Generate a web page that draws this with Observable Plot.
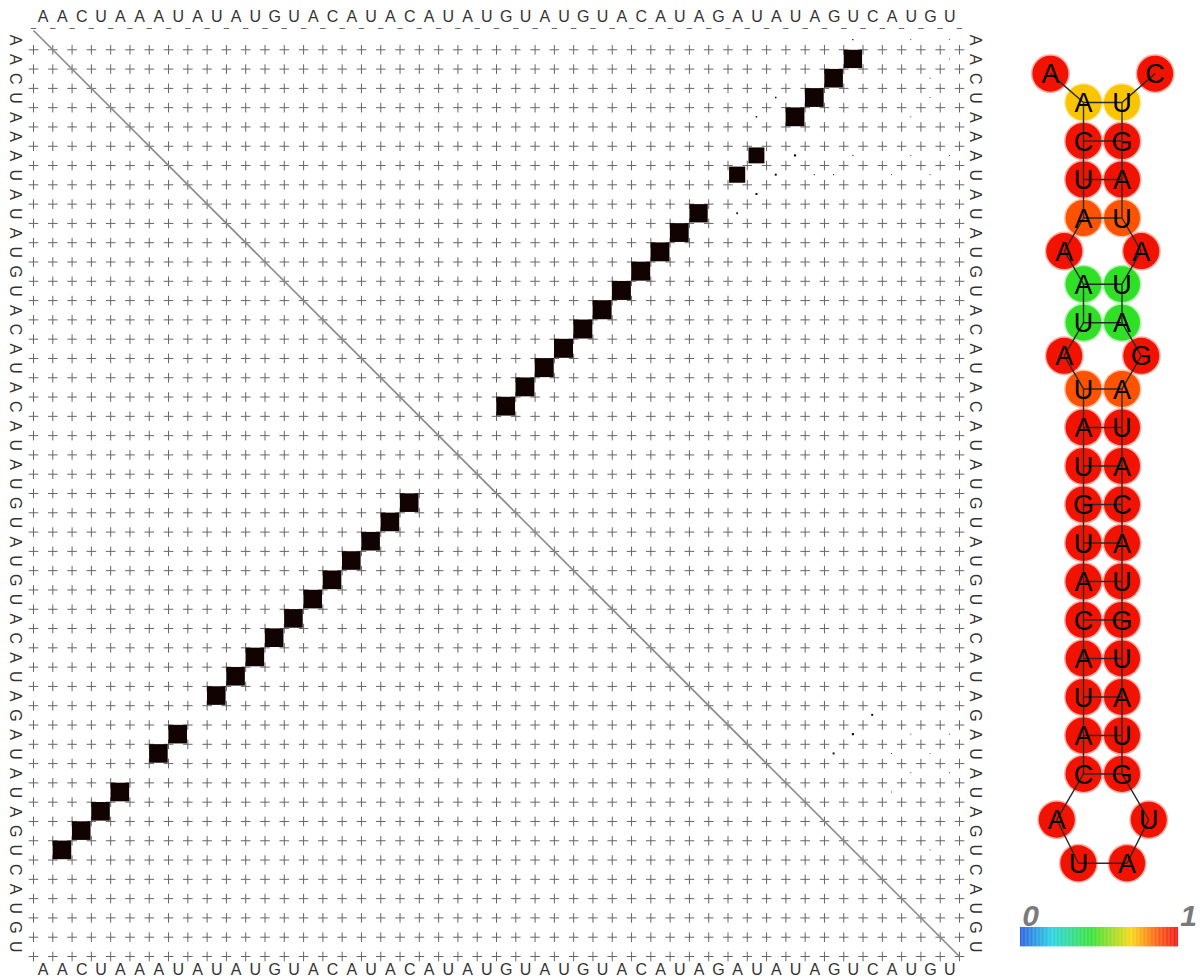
<!DOCTYPE html>
<html><head><meta charset="utf-8">
<script src="https://cdn.jsdelivr.net/npm/d3@7"></script>
<script src="https://cdn.jsdelivr.net/npm/@observablehq/plot@0.6"></script>
<style>
body{margin:0;background:#fff;}
#wrap{position:relative;width:1200px;height:978px;overflow:hidden;}
#dot{position:absolute;left:0;top:0;}
#ss{position:absolute;left:1000px;top:0;}
#leg{position:absolute;left:1000px;top:890px;}
</style></head><body><div id="wrap"><div id="dot"></div><div id="ss"></div><div id="leg"></div></div>
<script>
// ---------------- data ----------------
const sequence = "AACUAAAUAUAUGUACAUACAUAUGUAUGUACAUAGAUAUAGUCAUGU".split("");
const mfeStructure = ".((((.((.(((((((((((" + "...." + ")))))))))))" + ".))" + ".))))" + ".....";
// base-pair probabilities (upper triangle): i, j, p
const pairI = [2,3,4,5,7,8,10,11,12,13,14,15,16,17,18,19,20,
  1,1,1,2,3,4,5,4,5,7,8,9,10,7,7,7,8,8,8,8,36,37,38,37,38,39,40,37,39,38,43];
const pairJ = [43,42,41,40,38,37,35,34,33,32,31,30,29,28,27,26,25,
  43,46,48,48,47,47,46,39,38,40,39,38,37,43,46,48,41,42,45,47,44,43,42,46,45,46,45,48,48,47,47];
const pairP = [0.90,0.93,0.95,0.95,0.68,0.70,0.90,0.95,0.96,0.97,0.97,0.97,0.97,0.97,0.97,0.96,0.95,
  0.004,0.002,0.002,0.002,0.002,0.002,0.002,0.006,0.006,0.012,0.010,0.010,0.008,0.003,0.002,0.002,0.003,0.003,0.002,0.002,0.010,0.012,0.010,0.002,0.002,0.002,0.002,0.002,0.002,0.002,0.002];
// per-nucleotide reliability of the drawn structure (nucleotides 1..44)
const reliability = [0.97,0.72,0.97,0.97,0.87,0.97,0.46,0.46,0.97,0.87,
  0.97,0.97,0.97,0.97,0.97,0.97,0.97,0.97,0.97,0.97,
  0.97,0.97,0.97,0.97,0.97,0.97,0.97,0.97,0.97,0.97,
  0.97,0.97,0.97,0.97,0.87,0.97,0.46,0.46,0.97,0.87,
  0.97,0.97,0.72,0.97];
const colorStops = [0, 0.2, 0.45, 0.7, 0.85, 1];
const colorRange = ["#1a55e0","#18d0e0","#28e028","#f8d400","#ff6000","#ee0000"];
const legendLabels = ["0","1"];

// ---------------- derived ----------------
const N = sequence.length;
function pairTable(db){
  const st=[], pt=new Array(db.length+1).fill(0);
  for(let k=0;k<db.length;k++){
    if(db[k]==="(") st.push(k+1);
    else if(db[k]===")"){const o=st.pop(); pt[o]=k+1; pt[k+1]=o;}
  }
  return pt;
}
const pt = pairTable(mfeStructure);
const upper = pairI.map((i,k)=>({i, j:pairJ[k], p:pairP[k]}));
const mfePairs = [];
for(let i=1;i<=N;i++) if(pt[i]>i) mfePairs.push({i, j:pt[i], p:0.93});

const corners = d3.cross(d3.range(N+1), d3.range(1,N+1)).map(([a,b])=>({a,b}));
const idx = d3.range(1,N+1);
const font = "Liberation Sans, Arial, sans-serif";

const half = d => Math.sqrt(d.p)/2;
const dotPlot = Plot.plot({
  width:1000, height:978, margin:0,
  x:{domain:[0,N], range:[33,959], axis:null},
  y:{domain:[0,N], range:[30,956], axis:null},
  style:{background:"transparent"},
  marks:[
    Plot.dot(corners,{x:"a", y:"b", symbol:"plus", r:3.2, stroke:"#666", strokeWidth:1}),
    Plot.link(d3.range(N+1),{x1:d=>d-0.14, x2:d=>d+0.14, y1:()=>0, y2:()=>0, stroke:"#666", strokeWidth:1, dy:-2}),
    Plot.link([N],{x1:()=>0, y1:()=>0, x2:d=>d, y2:d=>d, stroke:"#8a8a8a", strokeWidth:1.6}),
    // upper triangle: probabilities, row i, column j
    Plot.rect(upper,{x1:d=>d.j-0.5-half(d), x2:d=>d.j-0.5+half(d), y1:d=>d.i-0.5-half(d), y2:d=>d.i-0.5+half(d), fill:"#120303"}),
    // lower triangle: MFE structure, row j, column i
    Plot.rect(mfePairs,{x1:d=>d.i-0.5-half(d), x2:d=>d.i-0.5+half(d), y1:d=>d.j-0.5-half(d), y2:d=>d.j-0.5+half(d), fill:"#120303"}),
    // sequence on the four sides
    Plot.text(idx,{x:d=>d-0.5, y:()=>0, text:d=>sequence[d-1], dy:-14, fontSize:16, fill:"#333", fontFamily:font}),
    Plot.text(idx,{x:d=>d-0.5, y:()=>N, text:d=>sequence[d-1], dy:13, fontSize:16, fill:"#333", fontFamily:font}),
    Plot.text(idx,{x:()=>0, y:d=>d-0.5, text:d=>sequence[d-1], dx:-18, rotate:90, fontSize:16, fill:"#333", fontFamily:font}),
    Plot.text(idx,{x:()=>N, y:d=>d-0.5, text:d=>sequence[d-1], dx:16, rotate:90, fontSize:16, fill:"#333", fontFamily:font})
  ]
});
document.getElementById("dot").append(dotPlot);

// ---------------- secondary structure layout (computed from the pair table) ----------------
const nDrawn = reliability.length;
function layout(){
  const pos = new Array(N+1);
  let i=1; while(pt[i]===0) i++;
  let j=pt[i], y=0;
  for(let k=i-1,c=1;k>=1;k--,c++) pos[k]={x:-0.86*c, y:-0.75*c};
  for(let k=j+1,c=1;k<=N;k++,c++) pos[k]={x:1+0.86*c, y:-0.75*c};
  while(true){
    pos[i]={x:0,y}; pos[j]={x:1,y};
    let a=i+1; while(a<j && pt[a]===0) a++;
    if(a>=j){ // hairpin loop on a circle
      const m=j-i-1, cx=0.5, cy=y+1.3, R=1.2;
      const start=Math.atan2(y-cy,0-cx)+2*Math.PI, end=Math.atan2(y-cy,1-cx);
      const step=(end-start)/(m+1);
      for(let k=1;k<=m;k++){const ang=start+step*k; pos[i+k]={x:cx+R*Math.cos(ang), y:cy+R*Math.sin(ang)};}
      break;
    }
    const b=pt[a], L=a-i-1, Rr=j-b-1;
    const gap = (L===0 && Rr===0) ? 1 : Math.max(L,Rr)+0.72;
    for(let k=1;k<=L;k++) pos[i+k]={x:-0.5, y:y+gap*k/(L+1)};
    for(let k=1;k<=Rr;k++) pos[j-k]={x:1.5, y:y+gap*k/(Rr+1)};
    i=a; j=b; y=y+gap;
  }
  return pos;
}
const pos = layout();
const nodes = d3.range(1,nDrawn+1).map(k=>({k, base:sequence[k-1], x:pos[k].x, y:pos[k].y, rel:reliability[k-1]}));
const backbone = d3.range(1,nDrawn).map(k=>({a:pos[k], b:pos[k+1]}));
const bonds = mfePairs.filter(d=>d.j<=nDrawn).map(d=>({a:pos[d.i], b:pos[d.j]}));

const colorScale = {type:"linear", domain:colorStops, range:colorRange, interpolate:"rgb"};
const ss = Plot.plot({
  width:200, height:890, margin:0,
  x:{domain:[0,1], range:[83,121.5], axis:null},
  y:{domain:[0,1], range:[102,140.5], axis:null},
  color:colorScale,
  style:{background:"transparent"},
  marks:[
    Plot.dot(nodes,{x:"x", y:"y", r:19.5, fill:"rel", fillOpacity:0.35}),
    Plot.dot(nodes,{x:"x", y:"y", r:18, fill:"rel"}),
    Plot.link(backbone,{x1:d=>d.a.x, y1:d=>d.a.y, x2:d=>d.b.x, y2:d=>d.b.y, stroke:"#2a2a2a", strokeWidth:1.4}),
    Plot.link(bonds,{x1:d=>d.a.x, y1:d=>d.a.y, x2:d=>d.b.x, y2:d=>d.b.y, stroke:"#2a2a2a", strokeWidth:1.4}),
    Plot.text(nodes,{x:"x", y:"y", text:"base", fontSize:27, fill:"#000", fontFamily:font, dy:1})
  ]
});
document.getElementById("ss").append(ss);

// ---------------- colour legend ----------------
const ramp = d3.range(0,1,0.005);
const leg = Plot.plot({
  width:200, height:88, margin:0,
  x:{domain:[0,1], range:[20,178], axis:null},
  y:{domain:[0,1], range:[0,88], axis:null},
  color:colorScale,
  style:{background:"transparent"},
  marks:[
    Plot.rect(ramp,{x1:d=>d, x2:d=>d+0.0056, y1:()=>0.42, y2:()=>0.64, fill:d=>d}),
    Plot.text(legendLabels,{x:(d,i)=>i, y:()=>0.29, text:d=>d, fontSize:30, fontWeight:"bold", fontStyle:"italic", fill:"#7a7a7a", fontFamily:font, dx:10})
  ]
});
document.getElementById("leg").append(leg);
</script></body></html>
